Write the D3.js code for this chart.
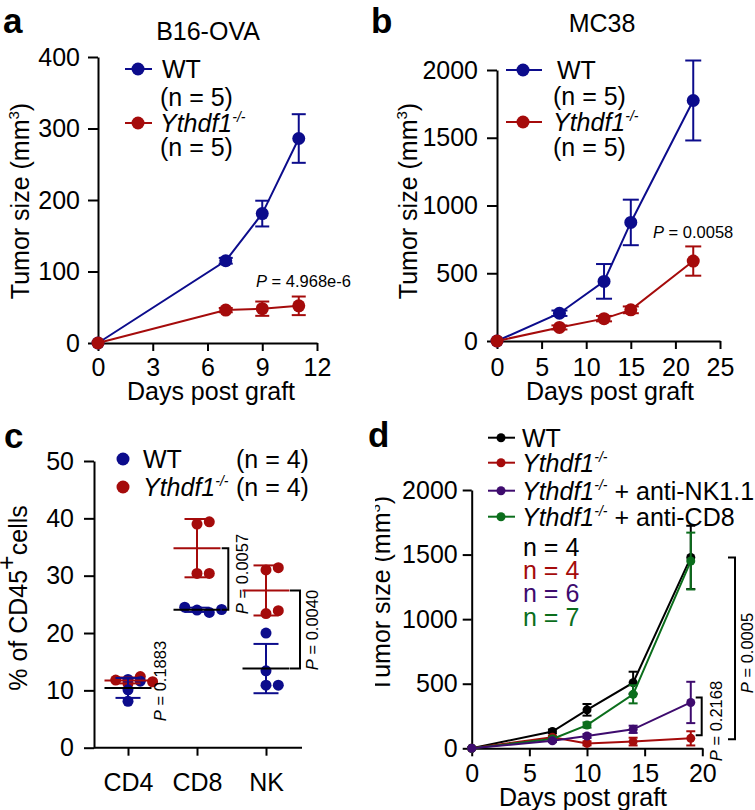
<!DOCTYPE html>
<html><head><meta charset="utf-8">
<script src="https://cdn.jsdelivr.net/npm/d3@7"></script>
<style>body{margin:0;background:#fff} svg{display:block}</style>
</head><body><svg id="chart" width="755" height="810"></svg>
<script>
const FONT = '"Liberation Sans", Arial, Helvetica, sans-serif';
const BLUE = "#0c0c8c", RED = "#a50b0b", PURPLE = "#3e0b6e", GREEN = "#0b6e1c", BLACK = "#000000";

// ---------- Panel a : B16-OVA ----------
const aDays = [0, 7, 9, 11];
const aWT = [0, 115, 181, 286];
const aWTerr = [0, 4, 18, 34];
const aKO = [0, 46, 48, 52];
const aKOerr = [0, 3, 10, 13];
const aXTicks = [0, 3, 6, 9, 12];
const aYTicks = [0, 100, 200, 300, 400];

// ---------- Panel b : MC38 ----------
const bDays = [0, 7, 12, 15, 22];
const bWT = [0, 205, 440, 875, 1775];
const bWTerr = [0, 20, 128, 168, 295];
const bKO = [0, 100, 165, 230, 590];
const bKOerr = [0, 15, 20, 25, 108];
const bXTicks = [0, 5, 10, 15, 20, 25];
const bYTicks = [0, 500, 1000, 1500, 2000];

// ---------- Panel c : % of CD45+ cells ----------
const cCats = ["CD4", "CD8", "NK"];
const cWT = [[11.9, 11.6, 10.1, 8.1], [24.0, 23.6, 24.5, 24.1], [20.0, 13.4, 10.9, 10.9]];
const cKO = [[11.2, 12.4, 11.8, 11.5], [39.0, 39.4, 30.4, 30.4], [31.0, 31.4, 23.4, 23.9]];
const cYTicks = [0, 10, 20, 30, 40, 50];
const cP = ["0.1883", "0.0057", "0.0040"];

// ---------- Panel d ----------
const dDays = [0, 7, 10, 14, 19];
const dWT = [0, 130, 298, 508, 1478];
const dWTerr = [0, 15, 45, 85, 245];
const dKO = [0, 85, 38, 52, 77];
const dKOerr = [0, 10, 15, 30, 55];
const dNK = [0, 58, 95, 147, 355];
const dNKerr = [0, 10, 15, 28, 160];
const dCD8 = [0, 72, 180, 418, 1450];
const dCD8err = [0, 10, 20, 70, 220];
const dN = [4, 4, 6, 7];
const dXTicks = [0, 5, 10, 15, 20];
const dYTicks = [0, 500, 1000, 1500, 2000];

const svg = d3.select("#chart").attr("font-family", FONT);
const fmt = d3.format("d");

function styleAxis(g, fs) {
  g.attr("font-family", FONT).attr("font-size", fs);
  g.selectAll("path,line").attr("stroke", "#000").attr("stroke-width", 2);
  g.selectAll("text").attr("fill", "#000");
}

function ythdf(textSel, size, supSize, shift, rest) {
  textSel.append("tspan").attr("font-style", "italic").text("Ythdf1");
  textSel.append("tspan").attr("font-style", "italic").attr("font-size", supSize).attr("dy", -shift).text("-/-");
  if (rest) textSel.append("tspan").attr("dy", shift).text(rest);
}

function linePanel(cfg) {
  const x = d3.scaleLinear().domain(cfg.xDomain).range(cfg.xRange);
  const y = d3.scaleLinear().domain(cfg.yDomain).range(cfg.yRange);
  const g = svg.append("g");
  const gx = g.append("g").attr("transform", `translate(0,${cfg.yRange[0]})`)
    .call(d3.axisBottom(x).tickValues(cfg.xTicks).tickFormat(fmt).tickSize(8).tickPadding(cfg.xPad).tickSizeOuter(0));
  styleAxis(gx, 25);
  const gy = g.append("g").attr("transform", `translate(${cfg.xRange[0]},0)`)
    .call(d3.axisLeft(y).tickValues(cfg.yTicks).tickFormat(fmt).tickSize(cfg.yTick).tickPadding(cfg.yPad).tickSizeOuter(0));
  styleAxis(gy, 25);
  cfg.series.forEach(s => {
    const pts = s.x.map((d, i) => ({ x: d, y: s.y[i], e: s.e[i] }));
    g.append("path").datum(pts)
      .attr("d", d3.line().x(d => x(d.x)).y(d => y(d.y)))
      .attr("fill", "none").attr("stroke", s.color).attr("stroke-width", cfg.lw);
    const eb = g.append("g").attr("stroke", s.color).attr("stroke-width", cfg.lw);
    pts.filter(d => d.e > 0).forEach(d => {
      eb.append("line").attr("x1", x(d.x)).attr("x2", x(d.x)).attr("y1", y(d.y - d.e)).attr("y2", y(d.y + d.e));
      [d.y - d.e, d.y + d.e].forEach(v => eb.append("line")
        .attr("x1", x(d.x) - cfg.cap).attr("x2", x(d.x) + cfg.cap).attr("y1", y(v)).attr("y2", y(v)));
    });
    g.append("g").selectAll("circle").data(pts).join("circle")
      .attr("cx", d => x(d.x)).attr("cy", d => y(d.y)).attr("r", cfg.r).attr("fill", s.color);
  });
  return { x, y, g };
}

function panelLabel(t, x, y) {
  svg.append("text").attr("x", x).attr("y", y).attr("font-size", 35).attr("font-weight", "bold").text(t);
}

function yTitle(parent, bx, cy, fs) {
  return parent.append("text").attr("transform", `translate(${bx},${cy}) rotate(-90)`)
    .attr("text-anchor", "middle").attr("font-size", fs || 25);
}

function mm3(t) {
  t.append("tspan").text("Tumor size (mm");
  t.append("tspan").attr("font-size", 15).attr("dy", -10).text("3");
  t.append("tspan").attr("dy", 10).text(")");
}

// ================= Panel a =================
{
  linePanel({
    xDomain: [0, 12], xRange: [98, 317], yDomain: [0, 400], yRange: [343, 57],
    xTicks: aXTicks, yTicks: aYTicks, xPad: 7, yTick: 10, yPad: 8, lw: 2, cap: 7, r: 6.5,
    series: [
      { x: aDays, y: aWT, e: aWTerr, color: BLUE },
      { x: aDays, y: aKO, e: aKOerr, color: RED }
    ]
  });
  panelLabel("a", 3, 33);
  svg.append("text").attr("x", 208).attr("y", 40).attr("text-anchor", "middle").attr("font-size", 25).text("B16-OVA");
  mm3(yTitle(svg, 28.5, 201));
  svg.append("text").attr("x", 211).attr("y", 400).attr("text-anchor", "middle").attr("font-size", 25).text("Days post graft");
  const lg = svg.append("g");
  [[BLUE, 69], [RED, 123]].forEach(([c, yy]) => {
    lg.append("line").attr("x1", 125).attr("x2", 152).attr("y1", yy).attr("y2", yy).attr("stroke", c).attr("stroke-width", 2);
    lg.append("circle").attr("cx", 138).attr("cy", yy).attr("r", 6.5).attr("fill", c);
  });
  lg.append("text").attr("x", 162).attr("y", 78).attr("font-size", 25).text("WT");
  lg.append("text").attr("x", 160).attr("y", 106).attr("font-size", 25).text("(n = 5)");
  ythdf(lg.append("text").attr("x", 160).attr("y", 132).attr("font-size", 25), 25, 14, 10);
  lg.append("text").attr("x", 160).attr("y", 156).attr("font-size", 25).text("(n = 5)");
  const pt = svg.append("text").attr("x", 256).attr("y", 287).attr("font-size", 16.5);
  pt.append("tspan").attr("font-style", "italic").text("P");
  pt.append("tspan").text(" = 4.968e-6");
}

// ================= Panel b =================
{
  linePanel({
    xDomain: [0, 25], xRange: [497, 720], yDomain: [0, 2000], yRange: [341, 70],
    xTicks: bXTicks, yTicks: bYTicks, xPad: 9, yTick: 10, yPad: 9, lw: 2, cap: 8, r: 6.5,
    series: [
      { x: bDays, y: bWT, e: bWTerr, color: BLUE },
      { x: bDays, y: bKO, e: bKOerr, color: RED }
    ]
  });
  panelLabel("b", 371, 33);
  svg.append("text").attr("x", 602).attr("y", 32).attr("text-anchor", "middle").attr("font-size", 25).text("MC38");
  mm3(yTitle(svg, 417, 201));
  svg.append("text").attr("x", 610).attr("y", 400).attr("text-anchor", "middle").attr("font-size", 25).text("Days post graft");
  const lg = svg.append("g");
  [[BLUE, 70], [RED, 122]].forEach(([c, yy]) => {
    lg.append("line").attr("x1", 506).attr("x2", 542).attr("y1", yy).attr("y2", yy).attr("stroke", c).attr("stroke-width", 2);
    lg.append("circle").attr("cx", 523).attr("cy", yy).attr("r", 6.5).attr("fill", c);
  });
  lg.append("text").attr("x", 557).attr("y", 79).attr("font-size", 25).text("WT");
  lg.append("text").attr("x", 553).attr("y", 105).attr("font-size", 25).text("(n = 5)");
  ythdf(lg.append("text").attr("x", 553).attr("y", 131).attr("font-size", 25), 25, 14, 10);
  lg.append("text").attr("x", 553).attr("y", 156).attr("font-size", 25).text("(n = 5)");
  const pt = svg.append("text").attr("x", 653).attr("y", 238).attr("font-size", 16.5);
  pt.append("tspan").attr("font-style", "italic").text("P");
  pt.append("tspan").text(" = 0.0058");
}

// ================= Panel c =================
{
  const x = d3.scalePoint().domain(cCats).range([128, 266]);
  const y = d3.scaleLinear().domain([0, 50]).range([747.7, 461]);
  const g = svg.append("g");
  const gy = g.append("g").attr("transform", "translate(94,0)")
    .call(d3.axisLeft(y).tickValues(cYTicks).tickSize(10).tickPadding(10).tickSizeOuter(0));
  styleAxis(gy, 25);
  g.append("line").attr("x1", 94).attr("x2", 302).attr("y1", y(0)).attr("y2", y(0)).attr("stroke", "#000").attr("stroke-width", 2);
  const gx = g.append("g").attr("transform", `translate(0,${y(0)})`)
    .call(d3.axisBottom(x).tickSize(8).tickPadding(18).tickSizeOuter(0));
  styleAxis(gx, 25);
  gx.select(".domain").remove();

  const R = 5.5, STEP = 12.3;
  function dodge(vals, cx) {
    const placed = [];
    const offs = [0, 1, -1, 2, -2];
    vals.forEach(v => {
      const py = y(v);
      for (const o of offs) {
        const px = cx + o * STEP;
        if (placed.every(p => Math.hypot(p.x - px, p.y - py) >= 2 * R - 3)) { placed.push({ x: px, y: py }); break; }
      }
    });
    return placed;
  }
  function groupStats(vals) { return { m: d3.mean(vals), s: d3.deviation(vals) }; }

  cCats.forEach((cat, i) => {
    const cx = x(cat);
    const ko = cKO[i], wt = cWT[i];
    dodge(ko, cx).forEach(p => g.append("circle").attr("cx", p.x).attr("cy", p.y).attr("r", R).attr("fill", RED));
    dodge(wt, cx).forEach(p => g.append("circle").attr("cx", p.x).attr("cy", p.y).attr("r", R).attr("fill", BLUE));
    const sk = groupStats(ko), sw = groupStats(wt);
    const eb = (st, col, meanCol) => {
      g.append("line").attr("x1", cx).attr("x2", cx).attr("y1", y(st.m - st.s)).attr("y2", y(st.m + st.s)).attr("stroke", col).attr("stroke-width", 2);
      [st.m - st.s, st.m + st.s].forEach(v => g.append("line").attr("x1", cx - 12.5).attr("x2", cx + 12.5)
        .attr("y1", y(v)).attr("y2", y(v)).attr("stroke", col).attr("stroke-width", 2));
      g.append("line").attr("x1", cx - 23.5).attr("x2", cx + 23.5).attr("y1", y(st.m)).attr("y2", y(st.m)).attr("stroke", meanCol).attr("stroke-width", 2);
    };
    eb(sk, RED, RED);
    eb(sw, BLUE, BLACK);
    if (i === 0) {
      const pt = g.append("text").attr("transform", `translate(166,681) rotate(-90)`).attr("text-anchor", "middle").attr("font-size", 16.5);
      pt.append("tspan").attr("font-style", "italic").text("P");
      pt.append("tspan").text(" = " + cP[0]);
    } else {
      const bx = cx + (i === 1 ? 31.3 : 34), tl = (i === 1 ? 6.6 : 10);
      const y1 = y(sk.m), y2 = y(sw.m);
      g.append("path").attr("d", `M${bx - tl},${y1}H${bx}V${y2}H${bx - tl}`).attr("fill", "none").attr("stroke", "#000").attr("stroke-width", 2);
      const tx = i === 1 ? 248 : 318, ty = i === 1 ? 574 : 630;
      const pt = g.append("text").attr("transform", `translate(${tx},${ty}) rotate(-90)`).attr("text-anchor", "middle").attr("font-size", 16.5);
      pt.append("tspan").attr("font-style", "italic").text("P");
      pt.append("tspan").text(" = " + cP[i]);
    }
  });

  panelLabel("c", 4, 448);
  const t = yTitle(svg, 27, 598);
  t.append("tspan").text("% of CD45");
  t.append("tspan").attr("font-size", 25).attr("dy", -12).text("+");
  t.append("tspan").attr("dy", 12).text("cells");
  const lg = svg.append("g");
  lg.append("circle").attr("cx", 123).attr("cy", 459).attr("r", 6.5).attr("fill", BLUE);
  lg.append("circle").attr("cx", 123).attr("cy", 487).attr("r", 6.5).attr("fill", RED);
  lg.append("text").attr("x", 143).attr("y", 468).attr("font-size", 25).text("WT");
  ythdf(lg.append("text").attr("x", 143).attr("y", 496).attr("font-size", 25), 25, 14, 10);
  lg.append("text").attr("x", 236).attr("y", 468).attr("font-size", 25).text("(n = 4)");
  lg.append("text").attr("x", 236).attr("y", 496).attr("font-size", 25).text("(n = 4)");
}

// ================= Panel d =================
{
  const colors = [BLACK, RED, PURPLE, GREEN];
  const p = linePanel({
    xDomain: [0, 20], xRange: [471.7, 702.3], yDomain: [0, 2000], yRange: [748.3, 490],
    xTicks: dXTicks, yTicks: dYTicks, xPad: 8, yTick: 9, yPad: 5, lw: 2, cap: 4.5, r: 4.5,
    series: [
      { x: dDays, y: dWT, e: dWTerr, color: BLACK },
      { x: dDays, y: dKO, e: dKOerr, color: RED },
      { x: dDays, y: dCD8, e: dCD8err, color: GREEN },
      { x: dDays, y: dNK, e: dNKerr, color: PURPLE }
    ]
  });
  const y = p.y;
  panelLabel("d", 368, 447);
  svg.append("defs").append("clipPath").attr("id", "clipd").append("rect").attr("x", 375).attr("y", 400).attr("width", 380).attr("height", 410);
  const lab = svg.append("g").attr("clip-path", "url(#clipd)");
  mm3(yTitle(lab, 390, 594));
  svg.append("text").attr("x", 583).attr("y", 806).attr("text-anchor", "middle").attr("font-size", 25).text("Days post graft");
  const rows = [437.7, 462.7, 490.7, 516.7];
  const lg = svg.append("g");
  rows.forEach((yy, i) => {
    lg.append("line").attr("x1", 488).attr("x2", 515).attr("y1", yy).attr("y2", yy).attr("stroke", colors[i]).attr("stroke-width", 2);
    lg.append("circle").attr("cx", 501).attr("cy", yy).attr("r", 4.5).attr("fill", colors[i]);
  });
  lg.append("text").attr("x", 522).attr("y", rows[0] + 9).attr("font-size", 25).text("WT");
  ythdf(lg.append("text").attr("x", 522).attr("y", rows[1] + 9).attr("font-size", 25), 25, 14, 10);
  ythdf(lg.append("text").attr("x", 522).attr("y", rows[2] + 9).attr("font-size", 25), 25, 14, 10, " + anti-NK1.1");
  ythdf(lg.append("text").attr("x", 522).attr("y", rows[3] + 9).attr("font-size", 25), 25, 14, 10, " + anti-CD8");
  const nRows = [546.7, 570, 593.3, 616.7];
  dN.forEach((n, i) => lg.append("text").attr("x", 523).attr("y", nRows[i] + 9).attr("font-size", 25).attr("fill", colors[i]).text("n = " + n));
  const last = dDays.length - 1;
  svg.append("path").attr("d", `M728,${y(dWT[last])}H735V${y(dKO[last]) + 1}H728`).attr("fill", "none").attr("stroke", "#000").attr("stroke-width", 2);
  svg.append("path").attr("d", `M695.7,${y(dNK[last]) - 5}H701.7V${y(dKO[last]) - 3}H695.7`).attr("fill", "none").attr("stroke", "#000").attr("stroke-width", 2);
  const p1 = svg.append("text").attr("transform", "translate(753,653) rotate(-90)").attr("text-anchor", "middle").attr("font-size", 16.5);
  p1.append("tspan").attr("font-style", "italic").text("P"); p1.append("tspan").text(" = 0.0005");
  const p2 = svg.append("text").attr("transform", "translate(722,721) rotate(-90)").attr("text-anchor", "middle").attr("font-size", 16.5);
  p2.append("tspan").attr("font-style", "italic").text("P"); p2.append("tspan").text(" = 0.2168");
}
</script></body></html>
